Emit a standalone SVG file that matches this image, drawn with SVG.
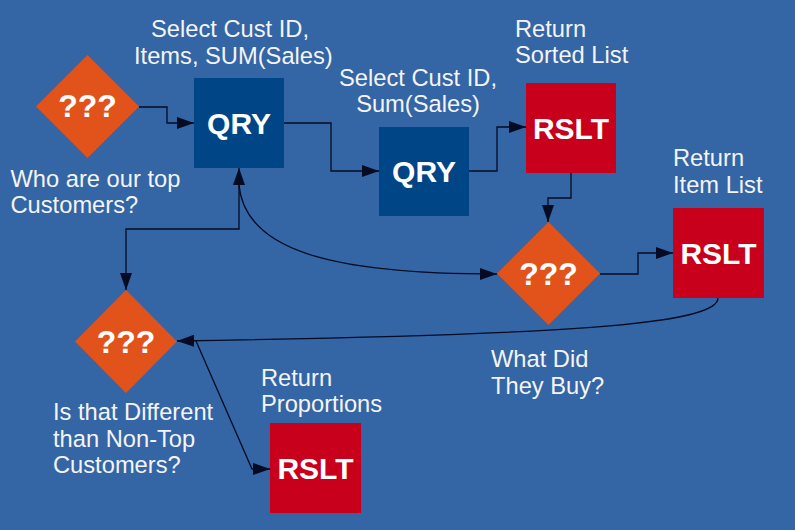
<svg xmlns="http://www.w3.org/2000/svg" width="795" height="530" viewBox="0 0 795 530">
<style>
.lbl{font-family:"Liberation Sans",Arial,sans-serif;font-size:23.7px;fill:#f4f4f4}
.big{font-family:"Liberation Sans",Arial,sans-serif;font-size:30px;font-weight:bold;fill:#ffffff;text-anchor:middle}
.qm{font-size:32px}
.dia{fill:#e2531c}
.qry{fill:#004586}
.rslt{fill:#c9001c}
.con{fill:none;stroke:#050b22;stroke-width:1.3}
</style>
<defs>
<marker id="arr" viewBox="0 0 17 12" refX="17" refY="6" markerWidth="17" markerHeight="12" markerUnits="userSpaceOnUse" orient="auto-start-reverse">
<path d="M0,0 L17,6 L0,12 z" fill="#050b22"/>
</marker>
</defs>
<rect x="0" y="0" width="795" height="530" fill="#3465a4"/>

<g id="connectors">
<path class="con" d="M139,107 L167,107 L167,123 L194,123" marker-end="url(#arr)"/>
<path class="con" d="M284,123 L331,123 L331,171 L379,171" marker-end="url(#arr)"/>
<path class="con" d="M469,171 L497,171 L497,127 L526,127" marker-end="url(#arr)"/>
<path class="con" d="M571,173 L571,198 L548,198 L548,222" marker-end="url(#arr)"/>
<path class="con" d="M600,274 L638,274 L638,253 L673,253" marker-end="url(#arr)"/>
<path class="con" d="M718,298 C718,325 560,335 177,341" marker-end="url(#arr)"/>
<path class="con" d="M196,341 L252,469 L270,469" marker-end="url(#arr)"/>
<path class="con" d="M126,290 L126,229 L239,229 L239,168" marker-start="url(#arr)" marker-end="url(#arr)"/>
<path class="con" d="M239,185 C245,250 330,274 497,274" marker-end="url(#arr)"/>
</g>

<g id="q1">
<path class="dia" d="M87.5,55 L139,106.5 L87.5,158 L36,106.5 z"/>
<text class="big qm" x="87.5" y="117">???</text>
<text class="lbl" x="10.5" y="187">Who are our top</text>
<text class="lbl" x="10.5" y="213">Customers?</text>
</g>

<g id="qry1">
<rect class="qry" x="194" y="78" width="90" height="90"/>
<text class="big" x="239" y="134">QRY</text>
<text class="lbl" x="151" y="37">Select Cust ID,</text>
<text class="lbl" x="134" y="64">Items, SUM(Sales)</text>
</g>

<g id="qry2">
<rect class="qry" x="379" y="127" width="90" height="89"/>
<text class="big" x="424" y="182">QRY</text>
<text class="lbl" x="418" y="86" text-anchor="middle">Select Cust ID,</text>
<text class="lbl" x="418" y="112" text-anchor="middle">Sum(Sales)</text>
</g>

<g id="rslt1">
<rect class="rslt" x="526" y="83" width="90" height="90"/>
<text class="big" x="571" y="139">RSLT</text>
<text class="lbl" x="515" y="37">Return</text>
<text class="lbl" x="515" y="63">Sorted List</text>
</g>

<g id="q2">
<path class="dia" d="M548.5,222 L600,273.5 L548.5,325 L497,273.5 z"/>
<text class="big qm" x="548.5" y="285">???</text>
<text class="lbl" x="491" y="367">What Did</text>
<text class="lbl" x="491" y="394">They Buy?</text>
</g>

<g id="rslt2">
<rect class="rslt" x="673" y="208" width="91" height="90"/>
<text class="big" x="718.5" y="264">RSLT</text>
<text class="lbl" x="673" y="166">Return</text>
<text class="lbl" x="673" y="193">Item List</text>
</g>

<g id="q3">
<path class="dia" d="M126,290 L177,341.5 L126,393 L75,341.5 z"/>
<text class="big qm" x="126" y="353">???</text>
<text class="lbl" x="53" y="420">Is that Different</text>
<text class="lbl" x="53" y="447">than Non-Top</text>
<text class="lbl" x="53" y="473">Customers?</text>
</g>

<g id="rslt3">
<rect class="rslt" x="270" y="423" width="91" height="90"/>
<text class="big" x="315.5" y="479">RSLT</text>
<text class="lbl" x="261" y="386">Return</text>
<text class="lbl" x="261" y="412">Proportions</text>
</g>
</svg>
